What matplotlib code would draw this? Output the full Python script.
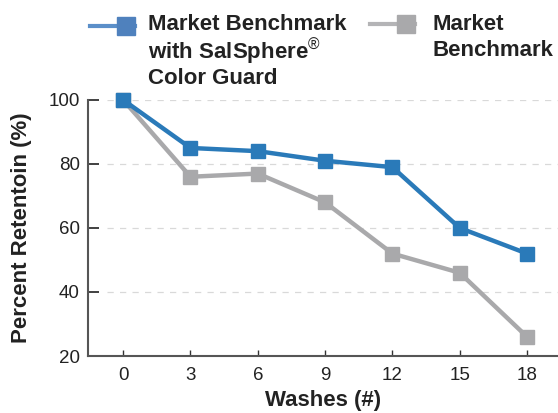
import matplotlib
matplotlib.use("Agg")
import matplotlib.pyplot as plt
import numpy as np
from matplotlib.lines import Line2D
from matplotlib.legend_handler import HandlerLine2D

plt.rcParams['font.family'] = ['Liberation Sans', 'DejaVu Sans']
plt.rcParams['mathtext.fontset'] = 'custom'
plt.rcParams['mathtext.rm'] = 'Liberation Sans'
plt.rcParams['mathtext.bf'] = 'Liberation Sans:bold'

washes = [0, 3, 6, 9, 12, 15, 18]
with_salsphere = [100, 85, 84, 81, 79, 60, 52]
benchmark = [100, 76, 77, 68, 52, 46, 26]
yticks = [20, 40, 60, 80, 100]

blue = '#2a7ab9'
gray = '#a9a9ab'


class EndMarker(HandlerLine2D):
    # line with the square sitting at its right end, raised to the first text line
    def __init__(self, lift=0.0, **kw):
        super().__init__(**kw)
        self.lift = lift

    def create_artists(self, legend, orig_handle, xdescent, ydescent,
                       width, height, fontsize, trans):
        x0 = -xdescent
        x1 = -xdescent + width
        y = (height - ydescent) / 2 + fontsize * self.lift
        line = Line2D([x0, x1], [y, y], color=orig_handle.get_color(),
                      lw=orig_handle.get_linewidth())
        mark = Line2D([x1 - fontsize * 0.41], [y], marker='s', ls='none',
                      color=orig_handle.get_markerfacecolor(),
                      markersize=orig_handle.get_markersize())
        line.set_transform(trans)
        mark.set_transform(trans)
        return [line, mark]


fig = plt.figure(figsize=(5.58, 4.13), dpi=100)
ax = fig.add_axes([0.158, 0.138, 0.842, 0.62])

ax.plot(washes, benchmark, color=gray, lw=3.2, marker='s', ms=10,
        clip_on=False, zorder=3)
ax.plot(washes, with_salsphere, color=blue, lw=3.2, marker='s', ms=10,
        clip_on=False, zorder=4)

ax.set_xlim(-1.56, 19.38)
ax.set_ylim(20, 100)
ax.set_xticks(washes)
ax.set_yticks(yticks)
for y in yticks[1:]:
    ax.axhline(y, xmin=0.04, color='#d9d9d9', lw=0.9, ls=(0, (5, 5)), zorder=1)

for s in ['top', 'right']:
    ax.spines[s].set_visible(False)
for s in ['left', 'bottom']:
    ax.spines[s].set_color('#555555')
    ax.spines[s].set_linewidth(1.5)
ax.tick_params(axis='y', direction='in', length=8, width=1.3, color='#333333',
               labelsize=13.5, labelcolor='#222222', pad=6)
ax.tick_params(axis='x', direction='in', length=4, width=1.0, color='#333333',
               labelsize=13.5, labelcolor='#222222', pad=8)

ax.set_xlabel('Washes (#)', fontsize=16, fontweight='bold', color='#222222', labelpad=4)
ax.set_ylabel('Percent Retentoin (%)', fontsize=16, fontweight='bold', color='#222222', labelpad=12)

h1 = Line2D([], [], color='#5b8fc9', lw=3, marker='s', ms=13, markerfacecolor='#4f81bd')
h2 = Line2D([], [], color='#b4b4b6', lw=3, marker='s', ms=13, markerfacecolor='#a9a9ab')
label1 = 'Market Benchmark\nwith SalSphere$^{®}$\nColor Guard'
label2 = 'Market\nBenchmark'

legend_kw = dict(loc='upper left', frameon=False, prop={'weight': 'bold', 'size': 16},
                 handlelength=2.03, borderaxespad=0.0)
leg1 = fig.legend([h1], [label1], bbox_to_anchor=(0.145, 0.988), handletextpad=0.58,
                  handler_map={Line2D: EndMarker(lift=1.17)}, **legend_kw)
leg2 = fig.legend([h2], [label2], bbox_to_anchor=(0.647, 0.988), handletextpad=0.8,
                  handler_map={Line2D: EndMarker(lift=0.6)}, **legend_kw)
for t in leg1.get_texts():
    t.set_color('#222222')
    t.set_linespacing(1.1)
for t in leg2.get_texts():
    t.set_color('#222222')
    t.set_linespacing(1.32)

fig.savefig('out.png', dpi=100)
